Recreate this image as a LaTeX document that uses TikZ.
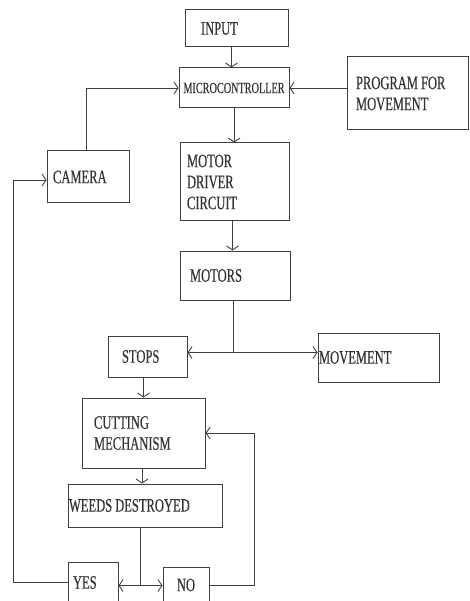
\documentclass[tikz,border=0pt]{standalone}
\usepackage{fontspec}
\setmainfont{Liberation Serif}[FakeStretch=0.66, FakeBold=0.4]
\usetikzlibrary{arrows.meta,positioning,calc}
\newcommand\boxfont[1]{\fontsize{#1}{21}\selectfont}
\newcommand\tightspace{\spaceskip=3pt plus 1pt minus 0.5pt\relax}

\begin{document}
\begin{tikzpicture}[x=1pt, y=-1pt]
    \tikzset{
        blk/.style={draw=black!75, line width=1pt, align=left, inner ysep=2pt, text=black!80, font=\boxfont{19}, execute at begin node=\tightspace},
        flow/.style={-{Straight Barb[length=4pt, width=12pt]}, draw=black!75, line width=0.9pt},
        wire/.style={draw=black!75, line width=0.9pt}
    }
    \useasboundingbox (0,0) rectangle (470,601);
    \clip (0,0) rectangle (470,601);

    % top row
    \node[blk, text width=71pt, inner xsep=16pt, minimum height=37pt] (input) at (236.5,28.5) {INPUT};
    \node[blk, text width=110pt, inner xsep=0pt, minimum height=40pt, align=center, font=\boxfont{15.5}] (micro) at (234,88) {MICROCONTROLLER};
    \node[blk, text width=103pt, inner xsep=9pt, minimum height=73pt] (prog) at (407.5,93.5) {PROGRAM FOR\\MOVEMENT};
    \node[blk, text width=70pt, inner xsep=6pt, minimum height=52pt] (camera) at (88,177) {CAMERA};

    % drive chain
    \node[blk, text width=95pt, inner xsep=7pt, minimum height=78pt] (driver) at (234.5,182) {MOTOR\\DRIVER\\CIRCUIT};
    \node[blk, text width=90pt, inner xsep=10pt, minimum height=49pt] (motors) at (235,275.5) {MOTORS};
    \node[blk, text width=51pt, inner xsep=14pt, minimum height=41pt] (stops) at (147.5,356.5) {STOPS};
    \node[blk, text width=119pt, inner xsep=1pt, minimum height=49pt] (movement) at (378.5,357.5) {MOVEMENT};

    % cutting and check
    \node[blk, text width=99pt, inner xsep=12pt, minimum height=70pt] (cutting) at (143.5,433) {CUTTING\\MECHANISM};
    \node[blk, text width=152pt, inner xsep=1pt, minimum height=43pt] (weeds) at (145,505.5) {WEEDS DESTROYED};
    \node[blk, text width=40pt, inner xsep=5pt, minimum height=41pt] (yes) at (93,582.5) {YES};
    \node[blk, text width=46pt, inner xsep=0pt, minimum height=36pt, align=center] (no) at (186,585) {NO};

    % connectors
    \draw[flow] ([xshift=-5pt]input.south) -- ([xshift=-5pt]input.south |- micro.north);
    \draw[flow] (micro.east -| prog.west) -- (micro.east);
    \draw[flow] ([xshift=-2pt]camera.north) |- (micro.west);
    \draw[flow] (micro.south) -- (micro.south |- driver.north);
    \draw[flow] ([xshift=-2pt]driver.south) -- ([xshift=-2pt]driver.south |- motors.north);
    \draw[wire] ([xshift=-2pt]motors.south) -- ++(0,52) coordinate (split);
    \draw[flow] (split) -- (split -| stops.east);
    \draw[flow] (split) -- (split -| movement.west);
    \draw[flow] ([xshift=-4pt]stops.south) -- ([xshift=-4pt]stops.south |- cutting.north);
    \draw[flow] ([xshift=-1.5pt]cutting.south) -- ([xshift=-1.5pt]cutting.south |- weeds.north);
    \draw[wire] ([xshift=-5pt]weeds.south) -- ++(0,58) coordinate (fork);
    \draw[flow] (fork) -- (fork -| yes.east);
    \draw[flow] (fork) -- (fork -| no.west);
    \draw[flow] (no.east) -- ++(45,0) |- (cutting.east);
    \draw[flow] (yes.west) -- ++(-54,0) |- ([yshift=-3pt]camera.west);
\end{tikzpicture}
\end{document}
